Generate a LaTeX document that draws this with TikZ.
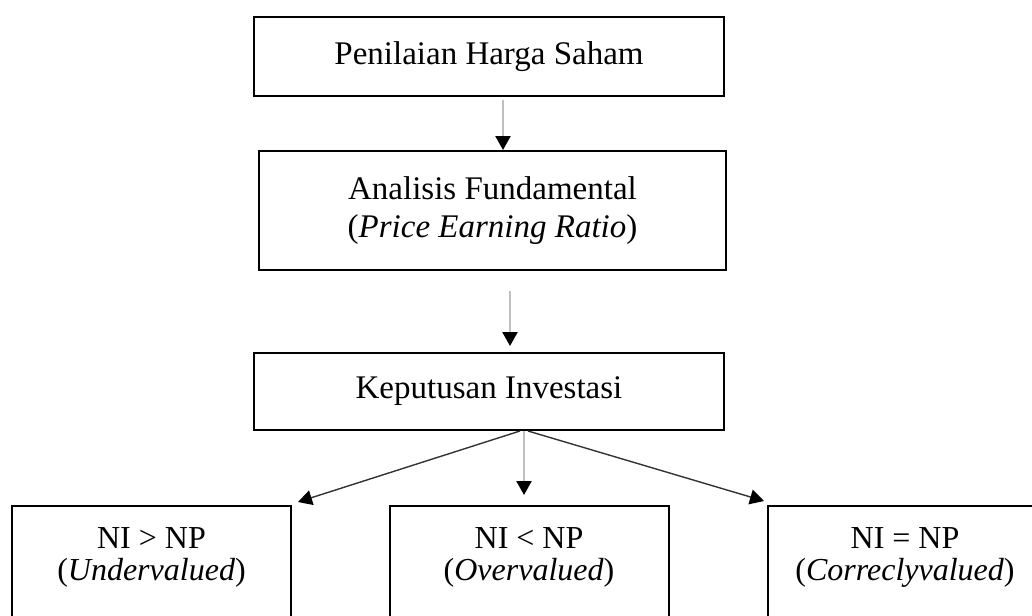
\documentclass[tikz,border=0pt]{standalone}
\usepackage{fontspec}
\setmainfont{Liberation Serif}
\usetikzlibrary{arrows.meta}

\begin{document}
\begin{tikzpicture}[x=0.5pt,y=-0.5pt,
    kotak/.style = {draw, line width=1pt, align=center, inner sep=0pt, font=\fontsize{16.5}{19}\selectfont},
    hasil/.style = {kotak, anchor=north, minimum width=139.5pt, inner ysep=11pt, font=\fontsize{16}{16}\selectfont},
    panahabu/.style = {draw=gray!50, line width=1.2pt, -{Triangle[length=7pt,width=7.5pt,color=black]}},
    panahmiring/.style = {draw=black!80, line width=0.7pt, -{Triangle[length=7pt,width=7.5pt,color=black]}}]
    \path[use as bounding box] (0,0) rectangle (1032,615);
    \clip (0,0) rectangle (1032,615);

    \node[kotak, minimum width=235pt, minimum height=39.5pt](penilaian) at (489,56.5) {Penilaian Harga Saham};
    \node[kotak, minimum width=233.5pt, minimum height=59.5pt](analisis) at (492.5,210.5) {Analisis Fundamental\\(\textit{Price Earning Ratio})};
    \node[kotak, minimum width=235pt, minimum height=38.5pt](keputusan) at (489,391.5) {Keputusan Investasi};

    \node[hasil](under) at (151.5,505) {NI > NP\\(\textit{Undervalued})\\\rule{0pt}{40pt}};
    \node[hasil](over) at (529,505) {NI < NP\\(\textit{Overvalued})\\\rule{0pt}{40pt}};
    \node[hasil, minimum width=137pt](correct) at (905,505) {NI = NP\\(\textit{Correclyvalued})\\\rule{0pt}{40pt}};

    \draw [panahabu] ([xshift=7pt,yshift=-1.5pt]penilaian.south) -- ([xshift=5.25pt]analisis.north);
    \draw [panahabu] ([xshift=8.75pt,yshift=-10pt]analisis.south) -- ([xshift=10.5pt,yshift=3pt]keputusan.north);

    \draw [panahmiring] ([xshift=15.5pt]keputusan.south) -- ([xshift=3pt,yshift=1.5pt]under.north east);
    \draw [panahabu] ([xshift=17.5pt]keputusan.south) -- ([xshift=-2.5pt,yshift=5pt]over.north);
    \draw [panahmiring] ([xshift=19.5pt]keputusan.south) -- ([xshift=-1.5pt,yshift=2pt]correct.north west);
\end{tikzpicture}
\end{document}
